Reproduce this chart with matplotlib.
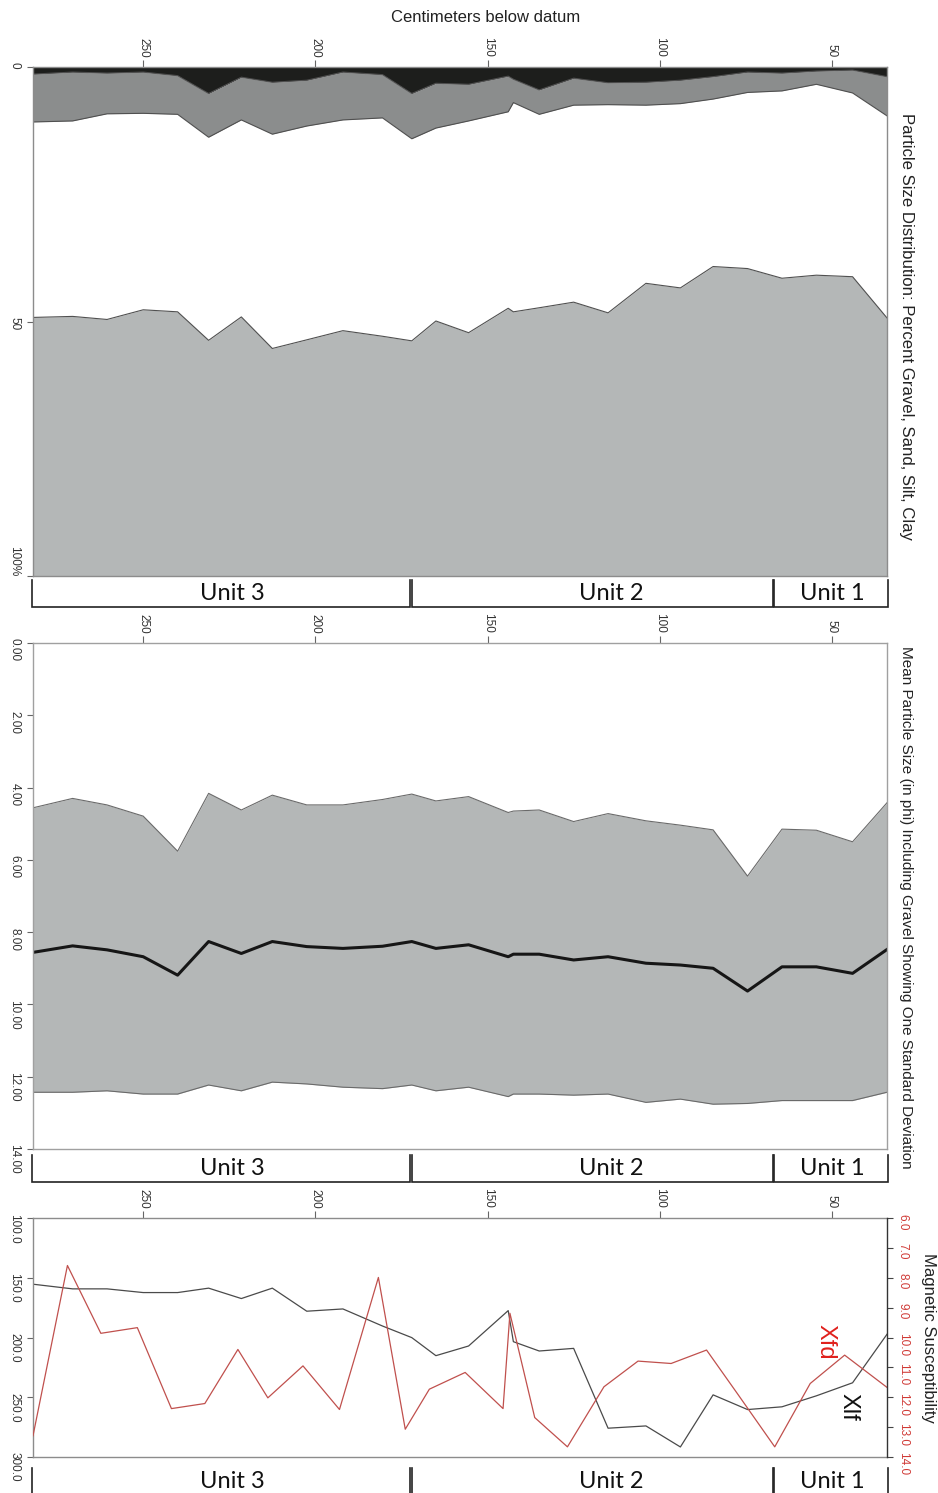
import numpy as np
import matplotlib.pyplot as plt

plt.rcParams['font.family'] = ['Liberation Sans', 'DejaVu Sans']

# sample depths, cm below datum
depth = [282, 270.5, 260.5, 250, 240, 231, 221.5, 212.5, 202.5, 192, 180.5, 172, 165,
         155.5, 144, 142.5, 135, 125, 115, 104, 94, 84.5, 74.5, 64.5, 54.5, 44, 34]

# particle size distribution, percent
gravel = [1.4, 1.0, 1.2, 1.0, 1.7, 5.2, 2.0, 3.0, 2.6, 1.0, 1.5, 5.2, 3.2, 3.4, 1.8,
          2.4, 4.5, 2.2, 3.1, 3.0, 2.6, 1.9, 1.0, 1.2, 0.8, 0.6, 1.9]
sand = [9.4, 9.6, 8.0, 8.1, 7.6, 8.6, 8.4, 10.2, 9.0, 9.4, 8.5, 8.9, 8.8, 7.2, 7.0,
        4.6, 4.8, 5.3, 4.3, 4.5, 4.6, 4.4, 4.0, 3.5, 2.6, 4.5, 7.7]
silt = [38.4, 38.4, 40.4, 38.6, 38.8, 39.9, 38.7, 42.1, 42.0, 41.4, 42.9, 39.7, 37.9,
        41.6, 38.6, 41.1, 38.0, 38.7, 40.9, 35.0, 36.2, 32.9, 34.6, 36.8, 37.5, 36.1, 39.7]
clay = [50.8, 51.0, 50.4, 52.3, 51.9, 46.3, 50.9, 44.7, 46.5, 48.2, 47.2, 46.2, 50.0,
        47.8, 52.6, 51.9, 52.8, 53.8, 51.8, 57.6, 56.6, 60.7, 60.5, 58.5, 59.1, 58.9, 50.6]

# mean particle size (phi) and one standard deviation either side
phi_upper = [4.56, 4.30, 4.48, 4.79, 5.76, 4.16, 4.62, 4.21, 4.48, 4.48, 4.33, 4.18, 4.37,
             4.25, 4.69, 4.65, 4.62, 4.94, 4.72, 4.92, 5.04, 5.17, 6.45, 5.15, 5.18, 5.50, 4.42]
phi_mean = [8.56, 8.38, 8.49, 8.68, 9.19, 8.26, 8.59, 8.26, 8.40, 8.45, 8.39, 8.26, 8.45,
            8.35, 8.68, 8.61, 8.61, 8.77, 8.68, 8.86, 8.91, 9.00, 9.63, 8.96, 8.96, 9.14, 8.48]
phi_lower = [12.43, 12.43, 12.39, 12.48, 12.48, 12.23, 12.39, 12.15, 12.20, 12.29, 12.33,
             12.23, 12.39, 12.29, 12.55, 12.48, 12.48, 12.51, 12.48, 12.71, 12.62, 12.76,
             12.74, 12.66, 12.66, 12.66, 12.43]

# magnetic susceptibility
xlf = [155.4, 159.3, 159.3, 162.4, 162.4, 158.7, 167.4, 158.7, 178.0, 176.1, 190.4, 200.1,
       215.2, 207.1, 177.5, 203.5, 211.3, 209.1, 275.9, 274.0, 291.6, 248.0, 260.3, 258.0,
       248.8, 237.9, 197.3]
depth_xfd = [282, 272.0, 262.3, 251.7, 241.8, 232.1, 222.5, 213.8, 203.6, 193.0, 181.7,
             173.9, 166.9, 156.5, 145.5, 143.5, 136.3, 126.8, 116.2, 106.3, 96.7, 86.4,
             77.5, 66.6, 56.3, 46.3, 34]
xfd = [13.29, 7.59, 9.86, 9.67, 12.38, 12.21, 10.40, 12.02, 10.95, 12.41, 7.99, 13.07,
       11.73, 11.17, 12.38, 9.19, 12.68, 13.66, 11.65, 10.79, 10.87, 10.42, 11.87, 13.66,
       11.54, 10.59, 11.67]

# stratigraphic units (depth span)
units = ["Unit 3", "Unit 2", "Unit 1"]
unit_top = [282.3, 171.9, 66.7]
unit_bottom = [172.4, 67.2, 33.7]
unit_label_x = [224, 114, 50]

depth_ticks = [250, 200, 150, 100, 50]

W, H = 938, 1493


def box(left, top, right, bottom):
    return [left / W, 1 - bottom / H, (right - left) / W, (bottom - top) / H]


def style_axes(ax, spine_color='#8c8c8c'):
    for s in ax.spines.values():
        s.set_color(spine_color)
        s.set_linewidth(1.0)
    ax.xaxis.tick_top()
    ax.set_xticks(depth_ticks)
    ax.set_xticklabels([str(t) for t in depth_ticks])
    ax.tick_params(axis='x', direction='out', length=5, width=0.8, color='#666666',
                   labelsize=8.5, labelcolor='#333333', labelrotation=-90, pad=2)
    ax.tick_params(axis='y', direction='out', length=4, width=0.8, color='#666666',
                   labelsize=8.5, labelcolor='#333333', labelrotation=-90, pad=5)
    ax.set_xlim(282, 34)


def unit_strip(rect):
    ax = fig.add_axes(rect)
    ax.set_xlim(282, 34)
    ax.set_ylim(0, 1)
    ax.axis('off')
    for name, a, b, lx in zip(units, unit_top, unit_bottom, unit_label_x):
        ax.plot([a, a, b, b], [1, 0, 0, 1], color='#222222', lw=1.2, clip_on=False,
                solid_joinstyle='miter')
        ax.text(lx, 0.5, name, ha='center', va='center', fontsize=17,
                family=['Lato', 'DejaVu Sans'], color='#111111')
    return ax


fig = plt.figure(figsize=(W / 100, H / 100), dpi=100)

fig.text(486 / W, 1 - 17 / H, "Centimeters below datum", ha='center', va='center',
         fontsize=12, color='#222222')

# particle size distribution
ax1 = fig.add_axes(box(33, 67, 887, 576))
c1 = np.array(gravel)
c2 = c1 + np.array(sand)
c3 = c2 + np.array(silt)
c4 = c3 + np.array(clay)
ax1.fill_between(depth, 0, c1, color='#1d1e1c', lw=0)
ax1.fill_between(depth, c1, c2, color='#8b8d8d', lw=0)
ax1.fill_between(depth, c2, c3, color='white', lw=0)
ax1.fill_between(depth, c3, np.maximum(c4, 100), color='#b4b7b7', lw=0)
for c in (c1, c2, c3):
    ax1.plot(depth, c, color='#505050', lw=0.8)
ax1.set_ylim(100, 0)
style_axes(ax1)
ax1.set_yticks([0, 50, 100])
ax1.set_yticklabels(['0', '50', '100%'])
ax1.get_yticklabels()[-1].set_va('bottom')
fig.text(906 / W, 1 - 326 / H, "Particle Size Distribution: Percent Gravel, Sand, Silt, Clay",
         rotation=-90, ha='center', va='center', fontsize=12.1, color='#222222')

unit_strip(box(33, 580, 887, 607))

# mean particle size
ax2 = fig.add_axes(box(33, 643, 887, 1149))
ax2.fill_between(depth, phi_upper, phi_lower, color='#b4b7b7', lw=0)
ax2.plot(depth, phi_upper, color='#6a6a6a', lw=0.8)
ax2.plot(depth, phi_lower, color='#6a6a6a', lw=0.8)
ax2.plot(depth, phi_mean, color='#161616', lw=2.2)
ax2.set_ylim(14, 0)
style_axes(ax2, '#a0a0a0')
ax2.set_yticks(np.arange(0, 15, 2))
ax2.set_yticklabels([f"{v:.2f}" for v in np.arange(0, 15, 2)])
fig.text(906 / W, 1 - 907 / H,
         "Mean Particle Size (in phi) Including Gravel Showing One Standard Deviation",
         rotation=-90, ha='center', va='center', fontsize=11, color='#222222')

unit_strip(box(33, 1155, 887, 1182))

# magnetic susceptibility
ax3 = fig.add_axes(box(33, 1218, 887, 1457))
ax3.plot(depth, xlf, color='#4a4a4a', lw=0.9)
ax3.set_ylim(300, 100)
style_axes(ax3)
ax3.set_yticks(np.arange(100, 301, 50))
ax3.set_yticklabels([f"{v:.1f}" for v in np.arange(100, 301, 50)])
ax3b = ax3.twinx()
ax3b.plot(depth_xfd, xfd, color='#c0504d', lw=0.9)
ax3b.set_ylim(14, 6)
ax3b.set_xlim(282, 34)
ax3b.set_yticks(np.arange(6, 15, 1))
ax3b.set_yticklabels([f"{v:.1f}" for v in np.arange(6, 15, 1)])
ax3b.tick_params(axis='y', direction='out', length=4, width=0.8, color='#444444',
                 labelsize=8.5, labelcolor='#d03a36', labelrotation=-90, pad=3)
for s in ax3b.spines.values():
    s.set_visible(False)
ax3b.spines['right'].set_visible(True)
ax3b.spines['right'].set_color('#333333')
ax3b.spines['right'].set_linewidth(1.0)
ax3.spines['right'].set_visible(False)

fig.text(825 / W, 1 - 1342 / H, "Xfd", rotation=-90, ha='center', va='center',
         fontsize=17, color='#e0201c')
fig.text(848 / W, 1 - 1407 / H, "Xlf", rotation=-90, ha='center', va='center',
         fontsize=17, color='#111111')
fig.text(928 / W, 1 - 1338 / H, "Magnetic Susceptibility", rotation=-90,
         ha='center', va='center', fontsize=12, color='#222222')

unit_strip(box(33, 1468, 887, 1496))

fig.savefig('out.png', dpi=100)
